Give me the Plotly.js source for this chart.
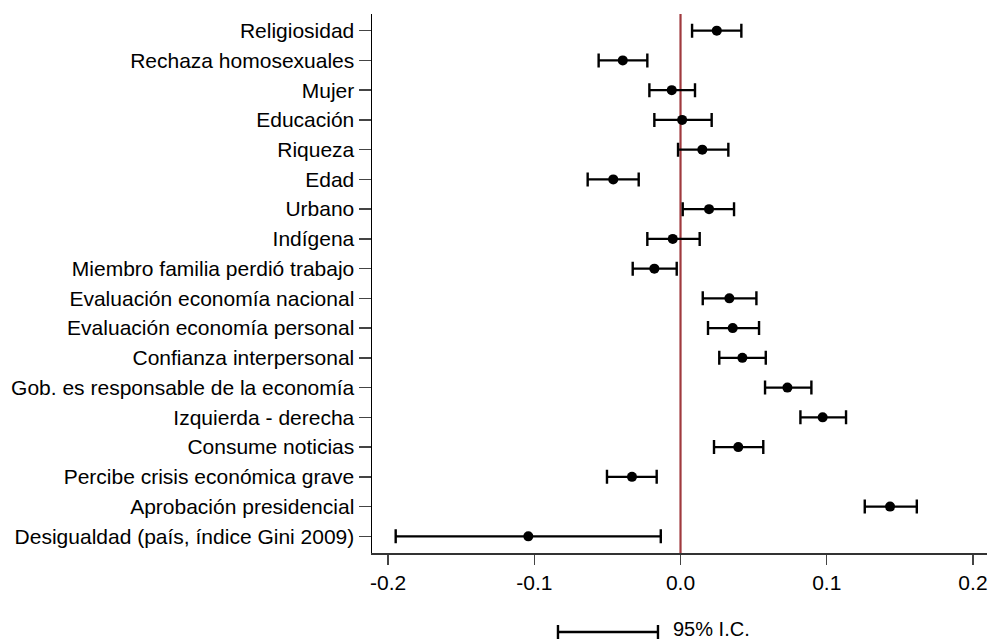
<!DOCTYPE html>
<html>
<head>
<meta charset="utf-8">
<script src="https://cdn.plot.ly/plotly-3.0.1.min.js"></script>
<style>html,body{margin:0;padding:0;background:#fff;}#chart{width:989px;height:642px;}</style>
</head>
<body>
<div id="chart"></div>
<script>
var labels = [
  "Religiosidad",
  "Rechaza homosexuales",
  "Mujer",
  "Educación",
  "Riqueza",
  "Edad",
  "Urbano",
  "Indígena",
  "Miembro familia perdió trabajo",
  "Evaluación economía nacional",
  "Evaluación economía personal",
  "Confianza interpersonal",
  "Gob. es responsable de la economía",
  "Izquierda - derecha",
  "Consume noticias",
  "Percibe crisis económica grave",
  "Aprobación presidencial",
  "Desigualdad (país, índice Gini 2009)"
];
var coef = [0.0248, -0.0395, -0.0060, 0.0011, 0.0149, -0.0460, 0.0195, -0.0053, -0.0179, 0.0334, 0.0357, 0.0423, 0.0731, 0.0972, 0.0395, -0.0332, 0.1433, -0.1041];
var ciLow = [0.0079, -0.0560, -0.0213, -0.0179, -0.0017, -0.0635, 0.0015, -0.0227, -0.0327, 0.0152, 0.0188, 0.0265, 0.0578, 0.0820, 0.0229, -0.0503, 0.1260, -0.1948];
var ciHigh = [0.0416, -0.0227, 0.0099, 0.0213, 0.0327, -0.0286, 0.0366, 0.0131, -0.0026, 0.0519, 0.0537, 0.0583, 0.0895, 0.1132, 0.0566, -0.0163, 0.1616, -0.0135];
var xTicks = [-0.2, -0.1, 0.0, 0.1, 0.2];
var xTickText = ["-0.2", "-0.1", "0.0", "0.1", "0.2"];
var legendText = "95% I.C.";

var idx = labels.map(function(_, i){ return i; });
var plus = coef.map(function(c, i){ return ciHigh[i] - c; });
var minus = coef.map(function(c, i){ return c - ciLow[i]; });

var trace = {
  type: 'scatter',
  mode: 'markers',
  x: coef,
  y: idx,
  marker: {color: '#000', size: 10, symbol: 'circle'},
  error_x: {type: 'data', symmetric: false, array: plus, arrayminus: minus, color: '#000', thickness: 2.4, width: 7},
  showlegend: false,
  hoverinfo: 'x+y'
};

var font = {family: '"Liberation Sans", Arial, sans-serif', size: 21, color: '#000'};
var legFont = {family: '"Liberation Sans", Arial, sans-serif', size: 20, color: '#000'};

var layout = {
  width: 989, height: 642,
  margin: {l: 372, r: 2, t: 14, b: 89},
  paper_bgcolor: '#fff', plot_bgcolor: '#fff',
  font: font,
  showlegend: false,
  xaxis: {
    range: [-0.211, 0.2096],
    tickvals: xTicks, ticktext: xTickText,
    ticks: 'outside', ticklen: 10, tickwidth: 1.5, tickcolor: '#444',
    showline: true, linecolor: '#333', linewidth: 1.5,
    showgrid: false, zeroline: false,
    tickfont: font
  },
  yaxis: {
    range: [17.56, -0.56],
    tickvals: idx, ticktext: labels,
    ticks: 'outside', ticklen: 12, tickwidth: 1.5, tickcolor: '#444',
    showline: true, linecolor: '#000', linewidth: 1.5,
    showgrid: false, zeroline: false,
    tickfont: font
  },
  shapes: [
    {type: 'line', xref: 'x', yref: 'paper', x0: 0, x1: 0, y0: 0, y1: 1, line: {color: '#a03a3e', width: 2.2}, layer: 'below'},
    {type: 'line', xref: 'paper', yref: 'paper', x0: 0.3024, x1: 0.465, y0: -0.1466, y1: -0.1466, line: {color: '#000', width: 2.4}},
    {type: 'line', xref: 'paper', yref: 'paper', x0: 0.3024, x1: 0.3024, y0: -0.1336, y1: -0.1596, line: {color: '#000', width: 2.4}},
    {type: 'line', xref: 'paper', yref: 'paper', x0: 0.465, x1: 0.465, y0: -0.1336, y1: -0.1596, line: {color: '#000', width: 2.4}}
  ],
  annotations: [
    {xref: 'paper', yref: 'paper', x: 0.487, y: -0.1410, xanchor: 'left', yanchor: 'middle', text: legendText, showarrow: false, font: legFont, borderpad: 0}
  ]
};

Plotly.newPlot('chart', [trace], layout, {displayModeBar: false, staticPlot: true});
</script>
</body>
</html>
